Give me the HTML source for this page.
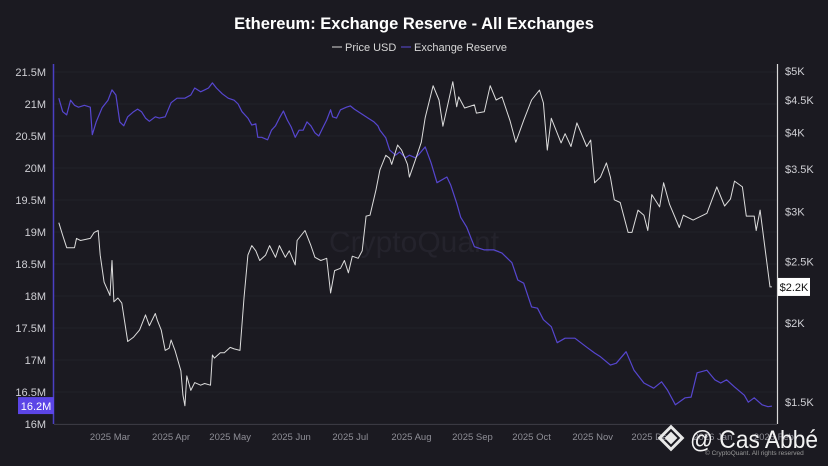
<!DOCTYPE html>
<html><head><meta charset="utf-8"><style>
html,body{margin:0;padding:0;background:#1b1a21;}
svg{display:block;font-family:"Liberation Sans",sans-serif;}
</style></head><body>
<svg width="828" height="466" viewBox="0 0 828 466" id="chart">
<rect width="828" height="466" fill="#1b1a21"/>
<text x="414" y="29" text-anchor="middle" font-size="16.5" font-weight="bold" fill="#ffffff">Ethereum: Exchange Reserve - All Exchanges</text>
<g>
<line x1="332" y1="47" x2="342" y2="47" stroke="#d8d8d8" stroke-width="1"/>
<text x="345" y="51" font-size="11" fill="#d8d8d8">Price USD</text>
<line x1="401" y1="47" x2="411" y2="47" stroke="#5b4bd6" stroke-width="1"/>
<text x="414" y="51" font-size="11" fill="#d8d8d8">Exchange Reserve</text>
</g>
<text x="414" y="252" text-anchor="middle" font-size="30" fill="#24232c">CryptoQuant</text>
<g id="grid"></g>
<g id="axes"></g>
<g id="series"></g>
<g>
<g transform="translate(671,438) rotate(45)" fill="none" stroke="#e8e8e8" stroke-width="3">
<rect x="-8" y="-8" width="16" height="16"/><rect x="-3" y="-3" width="6" height="6" fill="#e8e8e8"/>
</g>
<text x="690" y="448" font-size="25" textLength="128" lengthAdjust="spacingAndGlyphs" fill="#f2f2f2">@ Cas Abbé</text>
<text x="705" y="455" font-size="6.5" fill="#999">© CryptoQuant. All rights reserved</text>
</g>
</svg>
<script>
const priceDays=[2,4,6,10,11,13,18,20,22,23,25,28,29,30,32,34,37,40,43,46,48,51,52,54,56,58,59,61,64,65,66,67,69,71,74,76,79,80,81,84,86,89,91,94,96,98,100,102,104,107,109,112,114,117,119,122,123,127,130,132,135,138,140,142,145,147,149,151,154,156,158,160,163,165,168,170,171,174,176,179,180,183,186,188,192,195,197,200,202,204,205,208,213,214,218,221,224,227,231,234,238,242,246,248,250,252,257,259,262,265,270,272,274,277,280,282,284,287,291,293,296,299,301,303,307,309,312,317,319,324,331,336,340,343,345,349,351,355,356,358,360,363,364];
const priceValues=[2880,2750,2630,2630,2720,2700,2720,2780,2800,2560,2320,2210,2510,2160,2190,2150,1870,1900,1950,2060,1980,2070,2020,1950,1810,1825,1880,1810,1680,1540,1480,1650,1565,1610,1595,1605,1595,1780,1760,1795,1795,1830,1820,1810,2190,2560,2650,2600,2510,2560,2650,2540,2650,2540,2600,2470,2700,2800,2650,2540,2510,2530,2230,2420,2440,2510,2400,2550,2530,2600,2950,2960,3240,3490,3680,3640,3560,3820,3750,3560,3400,3620,3860,4220,4740,4500,4090,4500,4810,4390,4550,4370,4420,4290,4310,4740,4500,4550,4180,3860,4180,4500,4665,4450,3750,4210,3850,3980,3800,4140,3800,3890,3330,3400,3580,3400,3130,3100,2780,2780,3015,2960,2800,3190,3050,3330,3080,2830,2960,2907,2980,3280,3060,3140,3350,3280,2950,2950,2800,3015,2700,2280,2280];
const reserveDays=[2,4,6,8,10,12,15,18,19,21,24,27,29,31,33,35,37,40,42,44,46,48,51,53,56,59,62,66,69,71,74,76,78,80,82,85,88,91,93,95,98,100,102,103,105,108,110,112,114,116,118,120,122,124,126,128,130,132,134,136,138,140,141,143,145,148,150,152,156,159,162,164,165,168,170,173,175,178,180,183,185,188,191,194,199,201,204,206,209,213,218,223,227,232,235,238,242,245,248,252,255,259,264,267,270,274,277,282,285,290,294,299,304,308,311,315,320,323,326,331,335,338,341,345,350,352,355,359,362,364];
const reserveValues=[21.09,20.88,20.83,21.06,20.98,20.95,20.98,20.95,20.52,20.72,20.94,21.06,21.22,21.14,20.72,20.66,20.80,20.88,20.92,20.88,20.78,20.73,20.80,20.78,20.80,21.02,21.09,21.09,21.14,21.25,21.19,21.22,21.25,21.33,21.25,21.16,21.09,21.06,21.00,20.88,20.78,20.67,20.69,20.48,20.48,20.44,20.59,20.66,20.78,20.89,20.75,20.64,20.48,20.59,20.59,20.72,20.66,20.55,20.50,20.63,20.75,20.91,20.80,20.78,20.91,20.95,20.97,20.92,20.84,20.78,20.72,20.66,20.59,20.47,20.28,20.20,20.25,20.16,20.20,20.16,20.22,20.33,20.08,19.77,19.86,19.73,19.45,19.23,19.08,18.77,18.72,18.72,18.67,18.52,18.25,18.20,17.83,17.81,17.63,17.52,17.27,17.34,17.34,17.27,17.20,17.11,17.05,16.92,16.95,17.13,16.84,16.64,16.56,16.66,16.53,16.30,16.41,16.42,16.80,16.84,16.69,16.64,16.69,16.58,16.45,16.34,16.41,16.30,16.27,16.28];
const leftTicks=[16,16.5,17,17.5,18,18.5,19,19.5,20,20.5,21,21.5];
const leftTickLabels=["16M","16.5M","17M","17.5M","18M","18.5M","19M","19.5M","20M","20.5M","21M","21.5M"];
const rightTicks=[1500,2000,2500,3000,3500,4000,4500,5000];
const rightTickLabels=["$1.5K","$2K","$2.5K","$3K","$3.5K","$4K","$4.5K","$5K"];
const monthDays=[28,59,89,120,150,181,212,242,273,303,334,365];
const monthLabels=["2025 Mar","2025 Apr","2025 May","2025 Jun","2025 Jul","2025 Aug","2025 Sep","2025 Oct","2025 Nov","2025 Dec","2026 Jan","2026 Feb"];
const lastReserveLabel="16.2M";
const lastPriceLabel="$2.2K";

const NS="http://www.w3.org/2000/svg";
function xS(d){return 110+(d-28)*1.97;}
function yL(v){return 72+(21.5-v)*64;}
function yR(p){return 71+275*Math.log(5000/p);}
function mk(tag,attrs,parent){const e=document.createElementNS(NS,tag);for(const k in attrs)e.setAttribute(k,attrs[k]);parent.appendChild(e);return e;}
const grid=document.getElementById('grid'),axes=document.getElementById('axes'),series=document.getElementById('series');

leftTicks.forEach((v,i)=>{
  const g=mk('line',{x1:54,x2:777,y1:yL(v),y2:yL(v),stroke:'#222129','stroke-width':1},grid);
  
  
  const t=mk('text',{x:46,y:yL(v)+4,'text-anchor':'end','font-size':11,fill:'#cfcfd4'},axes);
  t.textContent=leftTickLabels[i];
  
  
});
rightTicks.forEach((p,i)=>{
  const t=mk('text',{x:785,y:yR(p)+4,'font-size':11,fill:'#cfcfd4'},axes);
  t.textContent=rightTickLabels[i];
  
  
});
monthDays.forEach((d,i)=>{
  const t=mk('text',{x:xS(d),y:440,'text-anchor':'middle','font-size':9.5,fill:'#8e8e96'},axes);
  t.textContent=monthLabels[i];
  
  
});
let a=mk('line',{x1:54,x2:777,y1:424.5,y2:424.5,stroke:'#3a3942'},axes);


a=mk('line',{x1:53.5,x2:53.5,y1:64,y2:424,stroke:'#4b3fc4','stroke-width':1.5},axes);


a=mk('line',{x1:777.5,x2:777.5,y1:64,y2:424,stroke:'#d8d8d8','stroke-width':1.2},axes);



const rp=mk('polyline',{points:reserveDays.map((d,i)=>xS(d).toFixed(1)+','+yL(reserveValues[i]).toFixed(1)).join(' '),fill:'none',stroke:'#5646cf','stroke-width':1.2,'stroke-linejoin':'round'},series);


const pp=mk('polyline',{points:priceDays.map((d,i)=>xS(d).toFixed(1)+','+yR(priceValues[i]).toFixed(1)).join(' '),fill:'none',stroke:'#dcdcdc','stroke-width':1,'stroke-linejoin':'round'},series);



const lastR=reserveValues[reserveValues.length-1];
const rb=mk('rect',{x:18,y:yL(lastR)-9,width:36,height:17,fill:'#5b45e6'},axes);


const rt=mk('text',{x:36,y:yL(lastR)+4,'text-anchor':'middle','font-size':11,fill:'#ffffff'},axes);
rt.textContent=lastReserveLabel;


const lastP=priceValues[priceValues.length-1];
const pb=mk('rect',{x:778,y:yR(lastP)-9,width:32,height:18,fill:'#ffffff'},axes);


const pt=mk('text',{x:794,y:yR(lastP)+4,'text-anchor':'middle','font-size':11,fill:'#111'},axes);
pt.textContent=lastPriceLabel;


</script>
</body></html>
